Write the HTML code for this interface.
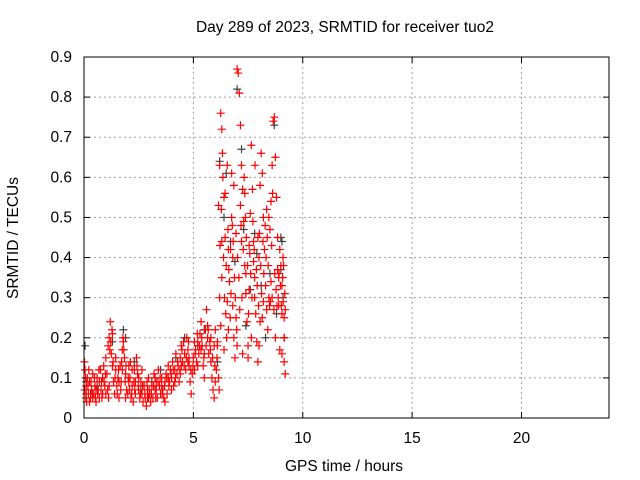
<!DOCTYPE html>
<html><head><meta charset="utf-8">
<style>
body{margin:0;background:#fff;}
svg{display:block;font-family:"Liberation Sans",sans-serif;font-size:15.5px;}
</style></head>
<body>
<svg id="chart" width="640" height="480" viewBox="0 0 640 480">
<rect x="0" y="0" width="640" height="480" fill="#fff"/>
<text x="345" y="32" text-anchor="middle">Day 289 of 2023, SRMTID for receiver tuo2</text>
<text x="344" y="471" text-anchor="middle">GPS time / hours</text>
<text transform="translate(18,238) rotate(-90)" text-anchor="middle">SRMTID / TECUs</text>
<g id="grid"></g>
<g id="ticks"></g>
<g id="black"></g>
<g id="red"></g>
<rect x="84" y="57" width="525" height="361" fill="none" stroke="#000" stroke-width="1"/>
</svg>
<script>
const xTicks=[0,5,10,15,20];
const yTicks=[0,0.1,0.2,0.3,0.4,0.5,0.6,0.7,0.8,0.9];
const yTickLabels=["0","0.1","0.2","0.3","0.4","0.5","0.6","0.7","0.8","0.9"];
const blackPts=[[0.05,0.18],[0.1,0.09],[0.3,0.06],[0.6,0.08],[1.3,0.19],[1.8,0.22],[1.9,0.2],[2.3,0.14],[2.6,0.07],[3.1,0.09],[3.5,0.12],[4.2,0.15],[4.6,0.2],[5.2,0.18],[5.5,0.22],[6.1,0.14],[6.2,0.64],[6.4,0.5],[6.5,0.61],[6.7,0.44],[6.9,0.39],[7.0,0.82],[7.2,0.67],[7.3,0.47],[7.4,0.23],[7.6,0.32],[7.8,0.46],[7.9,0.41],[8.1,0.33],[8.3,0.2],[8.5,0.36],[8.7,0.73],[8.8,0.26],[9.0,0.45],[9.05,0.44],[9.1,0.3],[9.15,0.2],[9.0,0.37]];
const redPts=[
[0.02,0.14],[0.05,0.12],[0.08,0.05],[0.1,0.08],[0.12,0.04],[0.15,0.1],[0.2,0.06],[0.25,0.09],[0.3,0.05],[0.35,0.07],[0.4,0.11],[0.45,0.06],[0.5,0.08],[0.55,0.04],[0.6,0.1],[0.65,0.07],[0.7,0.05],[0.75,0.12],[0.8,0.09],[0.85,0.06],[0.9,0.13],[0.95,0.08],[1.0,0.15],[1.05,0.11],[1.1,0.18],[1.15,0.2],[1.2,0.24],[1.25,0.16],[1.3,0.21],[1.35,0.09],[1.4,0.06],[1.45,0.12],[1.5,0.08],[1.55,0.1],[1.6,0.05],[1.65,0.13],[1.7,0.09],[1.75,0.17],[1.8,0.19],[1.85,0.15],[1.9,0.11],[1.95,0.07],[2.0,0.06],[2.05,0.13],[2.1,0.1],[2.15,0.05],[2.2,0.08],[2.25,0.04],[2.3,0.12],[2.35,0.09],[2.4,0.15],[2.45,0.11],[2.5,0.07],[2.55,0.05],[2.6,0.09],[2.65,0.06],[2.7,0.04],[2.75,0.08],[2.8,0.05],[2.85,0.03],[2.9,0.07],[2.95,0.1],[3.0,0.06],[3.05,0.04],[3.1,0.08],[3.15,0.05],[3.2,0.11],[3.25,0.07],[3.3,0.09],[3.35,0.05],[3.4,0.12],[3.45,0.08],[3.5,0.06],[3.55,0.1],[3.6,0.07],[3.65,0.05],[3.7,0.09],[3.75,0.11],[3.8,0.06],[3.85,0.13],[3.9,0.09],[3.95,0.12],[4.0,0.1],[4.05,0.14],[4.1,0.08],[4.15,0.12],[4.2,0.16],[4.25,0.11],[4.3,0.13],[4.35,0.09],[4.4,0.15],[4.45,0.18],[4.5,0.14],[4.55,0.19],[4.6,0.16],[4.65,0.12],[4.7,0.2],[4.75,0.17],[4.8,0.13],[4.85,0.09],[4.9,0.06],[4.95,0.11],[5.0,0.15],[5.05,0.12],[5.1,0.17],[5.15,0.14],[5.2,0.19],[5.25,0.16],[5.3,0.21],[5.35,0.24],[5.4,0.18],[5.45,0.13],[5.5,0.1],[5.55,0.22],[5.6,0.27],[5.65,0.2],[5.7,0.16],[5.75,0.19],[5.8,0.14],[5.85,0.1],[5.9,0.07],[5.95,0.05],[6.0,0.09],[6.05,0.12],[6.1,0.18],[6.15,0.53],[6.2,0.63],[6.25,0.76],[6.3,0.72],[6.35,0.6],[6.4,0.55],[6.45,0.45],[6.5,0.38],[6.55,0.29],[6.6,0.22],[6.65,0.34],[6.7,0.42],[6.75,0.5],[6.8,0.28],[6.85,0.2],[6.9,0.15],[6.95,0.25],[7.0,0.87],[7.05,0.86],[7.1,0.81],[7.15,0.73],[7.2,0.63],[7.25,0.57],[7.3,0.49],[7.35,0.38],[7.4,0.31],[7.45,0.24],[7.5,0.18],[7.55,0.43],[7.6,0.51],[7.65,0.68],[7.7,0.57],[7.75,0.44],[7.8,0.35],[7.85,0.26],[7.9,0.19],[7.95,0.14],[8.0,0.4],[8.05,0.58],[8.1,0.66],[8.15,0.61],[8.2,0.5],[8.25,0.42],[8.3,0.33],[8.35,0.27],[8.4,0.22],[8.45,0.3],[8.5,0.47],[8.55,0.54],[8.6,0.63],[8.65,0.74],[8.7,0.75],[8.75,0.65],[8.8,0.55],[8.85,0.37],[8.9,0.28],[8.95,0.42],[9.0,0.38],[9.05,0.33],[9.1,0.29],[9.15,0.14],[9.2,0.11],[9.1,0.4],[8.9,0.35],[8.6,0.3],[8.2,0.29],[7.8,0.3],[7.4,0.36],[7.2,0.44],[6.8,0.4],[6.6,0.42],[6.3,0.44],[6.3,0.35],[6.1,0.19],[6.0,0.22],[5.8,0.2],[5.5,0.16],[5.2,0.13],[4.8,0.15],[4.4,0.11],[4.0,0.07],[3.7,0.04],[3.3,0.07],[2.9,0.05],[2.5,0.1],[2.2,0.12],[1.9,0.05],[1.6,0.09],[1.3,0.13],[1.0,0.06],[0.7,0.09],[0.4,0.05],[0.1,0.06],[0.25,0.04],[0.55,0.07],[0.85,0.1],[1.15,0.08],[1.45,0.15],[1.75,0.12],[2.05,0.09],[2.35,0.06],[2.65,0.12],[2.95,0.05],[3.25,0.1],[3.55,0.08],[3.85,0.1],[4.15,0.09],[4.45,0.13],[4.75,0.14],[5.05,0.19],[5.35,0.17],[5.65,0.23],[5.95,0.18],[6.25,0.23],[6.55,0.63],[6.75,0.61],[6.95,0.46],[7.15,0.53],[7.35,0.56],[7.55,0.32],[7.75,0.39],[7.95,0.45],[8.15,0.25],[8.35,0.52],[8.55,0.34],[8.75,0.2],[8.95,0.17],[9.05,0.26],[7.0,0.18],[7.5,0.15],[8.0,0.18],[6.4,0.17],
[0.03,0.07],[0.07,0.1],[0.18,0.08],[0.22,0.12],[0.32,0.09],[0.38,0.06],[0.48,0.1],[0.52,0.05],[0.62,0.06],[0.68,0.12],[0.78,0.07],[0.82,0.05],[0.92,0.09],[0.98,0.11],[1.08,0.07],[1.12,0.05],[1.18,0.17],[1.22,0.19],[1.28,0.22],[1.33,0.14],[1.42,0.1],[1.52,0.06],[1.58,0.12],[1.68,0.07],[1.72,0.14],[1.78,0.2],[1.82,0.17],[1.88,0.09],[1.92,0.13],[2.02,0.1],[2.08,0.07],[2.12,0.14],[2.18,0.06],[2.28,0.09],[2.32,0.07],[2.42,0.13],[2.48,0.08],[2.58,0.06],[2.68,0.08],[2.78,0.06],[2.88,0.09],[2.98,0.07],[3.08,0.06],[3.18,0.08],[3.28,0.05],[3.38,0.09],[3.48,0.1],[3.58,0.06],[3.68,0.08],[3.78,0.1],[3.88,0.08],[3.98,0.11],[4.08,0.12],[4.18,0.1],[4.28,0.14],[4.38,0.12],[4.48,0.17],[4.58,0.13],[4.68,0.15],[4.78,0.19],[4.88,0.12],[4.98,0.13],[5.08,0.16],[5.18,0.21],[5.28,0.18],[5.38,0.2],[5.48,0.15],[5.58,0.18],[5.68,0.22],[5.78,0.17],[5.88,0.15],[5.98,0.13],[6.08,0.15],[6.18,0.07],[6.22,0.43],[6.28,0.52],[6.33,0.66],[6.38,0.4],[6.42,0.3],[6.48,0.26],[6.52,0.2],[6.58,0.47],[6.62,0.37],[6.68,0.25],[6.72,0.31],[6.78,0.48],[6.82,0.44],[6.88,0.35],[6.92,0.3],[6.98,0.22],[7.02,0.4],[7.08,0.35],[7.12,0.27],[7.18,0.48],[7.22,0.3],[7.28,0.42],[7.32,0.6],[7.38,0.5],[7.42,0.45],[7.48,0.38],[7.52,0.26],[7.58,0.41],[7.62,0.36],[7.68,0.3],[7.72,0.49],[7.78,0.42],[7.82,0.63],[7.88,0.37],[7.92,0.33],[7.98,0.28],[8.02,0.46],[8.08,0.38],[8.12,0.31],[8.18,0.44],[8.22,0.36],[8.28,0.48],[8.32,0.4],[8.38,0.45],[8.42,0.38],[8.48,0.28],[8.52,0.29],[8.58,0.43],[8.62,0.56],[8.68,0.27],[8.72,0.36],[8.78,0.32],[8.82,0.28],[8.88,0.3],[8.92,0.36],[8.98,0.33],[9.02,0.28],[9.08,0.35],[9.12,0.38],[9.18,0.31],[9.15,0.25],[9.2,0.27],[9.05,0.16],[9.15,0.2],[8.85,0.45],[8.45,0.5],[8.05,0.24],[7.65,0.2],[7.25,0.16],[6.85,0.58],[6.45,0.56],[6.2,0.3],[6.15,0.1]
];
const X0=84,XS=21.875,Y0=418,YS=401.1;
const xs=h=>X0+h*XS, ys=v=>Y0-v*YS;
const NS="http://www.w3.org/2000/svg";
function mk(tag,attrs,parent){const e=document.createElementNS(NS,tag);for(const k in attrs)e.setAttribute(k,attrs[k]);parent.appendChild(e);return e;}
const grid=document.getElementById('grid'),ticks=document.getElementById('ticks');
xTicks.forEach(t=>{
  const x=xs(t);
  if(t>0){const g=mk('line',{x1:x,y1:57,x2:x,y2:418,stroke:'#a0a0a0','stroke-dasharray':'2,3'},grid);
  
  }
  mk('line',{x1:x,y1:418,x2:x,y2:412,stroke:'#000'},ticks);
  mk('line',{x1:x,y1:57,x2:x,y2:63,stroke:'#000'},ticks);
  const l=mk('text',{x:x,y:443,'text-anchor':'middle'},ticks);l.textContent=t;
  
  
});
yTicks.forEach((t,i)=>{
  const y=ys(t);
  if(t>0&&t<0.9){const g=mk('line',{x1:84,y1:y,x2:609,y2:y,stroke:'#a0a0a0','stroke-dasharray':'2,3'},grid);
  
  }
  mk('line',{x1:84,y1:y,x2:90,y2:y,stroke:'#000'},ticks);
  mk('line',{x1:609,y1:y,x2:603,y2:y,stroke:'#000'},ticks);
  const l=mk('text',{x:72,y:y+5,'text-anchor':'end'},ticks);l.textContent=yTickLabels[i];
  
  
});
function plot(pts,g,color,name){
  pts.forEach(p=>{
    const x=xs(p[0]),y=ys(p[1]);
    const e=mk('path',{d:`M${x-4},${y}H${x+4}M${x},${y-4}V${y+4}`,stroke:color,'stroke-width':1.2,fill:'none'},g);
    
    
  });
}
plot(blackPts,document.getElementById('black'),'#404040','point-black');
plot(redPts,document.getElementById('red'),'#ff0000','point-red');
</script>
</body></html>
